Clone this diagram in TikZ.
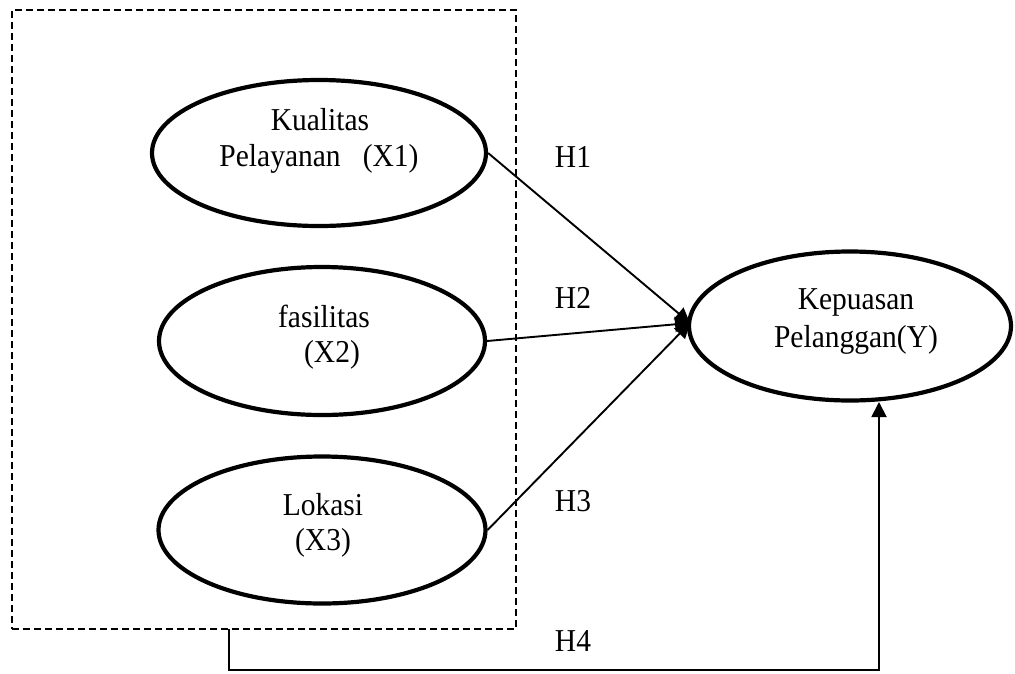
\documentclass[tikz,border=0pt]{standalone}
\usepackage{fontspec}
\usepackage{graphicx}
\setmainfont{Liberation Serif}
\usetikzlibrary{arrows.meta,shapes.geometric}
\newcommand{\tallt}[1]{\scalebox{1}[1.08]{#1}}
\begin{document}
\begin{tikzpicture}[x=1pt,y=-1pt,
  var/.style={draw,ellipse,line width=4.2pt,inner sep=0pt},
  lbl/.style={font=\fontsize{29.5}{34}\selectfont,inner sep=0pt,anchor=base},
  conn/.style={line width=1.9pt,-{Triangle[length=15pt,width=15pt]}}]
\useasboundingbox (0,0) rectangle (1015,673);
\node[draw,dashed,dash pattern=on 7pt off 4pt,line width=1.5pt,minimum width=504pt,minimum height=619pt,inner sep=0pt] (box) at (264,319.5) {};
\node[var,minimum width=334pt,minimum height=146pt] (e1) at (319,153) {};
\node[var,minimum width=326pt,minimum height=148pt] (e2) at (322,341) {};
\node[var,minimum width=327pt,minimum height=147pt] (e3) at (322,530) {};
\node[var,minimum width=322pt,minimum height=149pt] (ey) at (850,326) {};
\node[lbl] (t1a) at (320,130) {\tallt{Kualitas}};
\node[lbl] (t1b) at (319,166) {\tallt{Pelayanan \ \ (X1)}};
\node[lbl] (t2a) at (324,327) {\tallt{fasilitas}};
\node[lbl] (t2b) at (332,362) {\tallt{(X2)}};
\node[lbl] (t3a) at (323,515) {\tallt{Lokasi}};
\node[lbl] (t3b) at (323,550) {\tallt{(X3)}};
\node[lbl] (tya) at (856,309) {\tallt{Kepuasan}};
\node[lbl] (tyb) at (856,347) {\tallt{Pelanggan(Y)}};
\node[lbl] (h1) at (573,167) {\tallt{H1}};
\node[lbl] (h2) at (573,308) {\tallt{H2}};
\node[lbl] (h3) at (573,511) {\tallt{H3}};
\node[lbl] (h4) at (573,651) {\tallt{H4}};
\coordinate (conv) at (690,323);
\coordinate (h4s) at (229,629);
\coordinate (h4e) at (879,402);
\draw[conn] (e1.east) -- (conv);
\draw[conn] (e2.east) -- (conv);
\draw[conn] (e3.east) -- (conv);
\draw[conn] (h4s) |- (879,670) -- (h4e);
\end{tikzpicture}
\end{document}
